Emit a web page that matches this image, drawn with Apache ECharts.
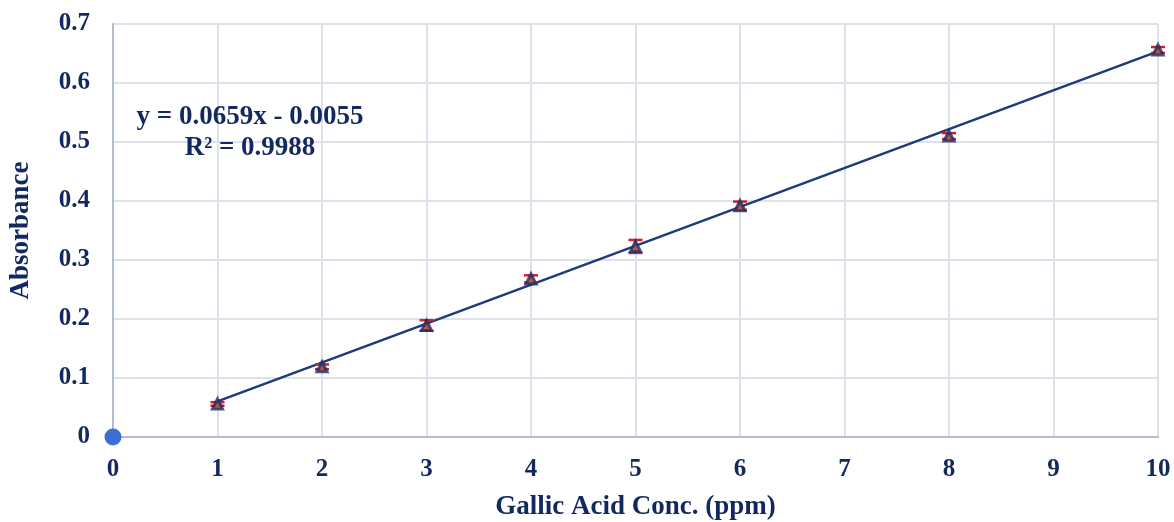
<!DOCTYPE html>
<html><head><meta charset="utf-8">
<script src="https://cdn.jsdelivr.net/npm/echarts@6/dist/echarts.min.js"></script>
<style>html,body{margin:0;padding:0;background:#fff}#c{width:1174px;height:522px}</style>
</head><body><div id="c"></div>
<script>
const concX = [1, 2, 3, 4, 5, 6, 8, 10];
const absorbance = [0.056, 0.119, 0.189, 0.268, 0.323, 0.392, 0.510, 0.656];
const errAbs = [0.003, 0.004, 0.009, 0.006, 0.011, 0.007, 0.005, 0.005];
const trendX = [1, 10];
const trendY = [0.0604, 0.6535];
const originPoint = [[0, 0]];
const xTicks = [0,1,2,3,4,5,6,7,8,9,10];
const yTicks = ['0','0.1','0.2','0.3','0.4','0.5','0.6','0.7'];
const equationText = 'y = 0.0659x - 0.0055';
const r2Text = 'R² = 0.9988';

const navy = '#13285f';
const font = '"Liberation Serif","Times New Roman",serif';
const chart = echarts.init(document.getElementById('c'), null, {renderer:'canvas'});
const pts = concX.map((x,i)=>[x, absorbance[i]]);
const errData = concX.map((x,i)=>[x, absorbance[i]-errAbs[i], absorbance[i]+errAbs[i]]);
chart.setOption({
  animation:false,
  backgroundColor:'#fff',
  grid:{left:113,right:16,top:24,bottom:85,containLabel:false,outerBoundsMode:'none'},
  xAxis:{type:'value',min:0,max:10,interval:1,
    name:'Gallic Acid Conc. (ppm)',nameLocation:'middle',nameGap:57,
    nameTextStyle:{color:navy,fontFamily:font,fontWeight:'bold',fontSize:27},
    axisLine:{show:true,lineStyle:{color:'#b3bdd0',width:2}},
    axisTick:{show:false},
    axisLabel:{color:navy,fontFamily:font,fontWeight:'bold',fontSize:25,margin:20,
      formatter:v=>String(xTicks[Math.round(v)])},
    splitLine:{show:true,lineStyle:{color:'#dde2ea',width:2}}},
  yAxis:{type:'value',min:0,max:0.7,interval:0.1,
    name:'Absorbance',nameLocation:'middle',nameGap:78,nameRotate:90,
    nameTextStyle:{color:navy,fontFamily:font,fontWeight:'bold',fontSize:27},
    axisLine:{show:true,lineStyle:{color:'#b3bdd0',width:2}},
    axisTick:{show:false},
    axisLabel:{color:navy,fontFamily:font,fontWeight:'bold',fontSize:25,margin:23,
      formatter:v=>yTicks[Math.round(v*10)]},
    splitLine:{show:true,lineStyle:{color:'#dde2ea',width:2}}},
  graphic:[
    {type:'text',x:250,y:117,z:10,style:{text:equationText,fill:navy,font:'bold 27px '+font,
      textAlign:'center',textVerticalAlign:'middle'}},
    {type:'text',x:250,y:148,z:10,style:{text:r2Text,fill:navy,font:'bold 27px '+font,
      textAlign:'center',textVerticalAlign:'middle'}}],
  series:[
    {type:'line',data:trendX.map((x,i)=>[x,trendY[i]]),symbol:'none',
     lineStyle:{color:'#1f3a78',width:2.5},z:3},
    {type:'custom',z:4,data:errData,
     renderItem:(params,api)=>{
       const x=api.value(0);
       const lo=api.coord([x,api.value(1)]);
       const hi=api.coord([x,api.value(2)]);
       const w=7;
       const st={stroke:'#d0202a',lineWidth:2.5};
       return {type:'group',children:[
         {type:'line',shape:{x1:lo[0],y1:lo[1],x2:hi[0],y2:hi[1]},style:st},
         {type:'line',shape:{x1:lo[0]-w,y1:lo[1],x2:lo[0]+w,y2:lo[1]},style:st},
         {type:'line',shape:{x1:hi[0]-w,y1:hi[1],x2:hi[0]+w,y2:hi[1]},style:st}]};
     }},
    {type:'scatter',data:pts,symbol:'triangle',symbolSize:10,z:5,
     itemStyle:{color:'#c0601c',borderColor:'#1c2b6e',borderWidth:3}},
    {type:'scatter',data:originPoint,symbol:'circle',symbolSize:17,z:6,
     itemStyle:{color:'#3d6fd0',opacity:1}}
  ]
});
</script></body></html>
